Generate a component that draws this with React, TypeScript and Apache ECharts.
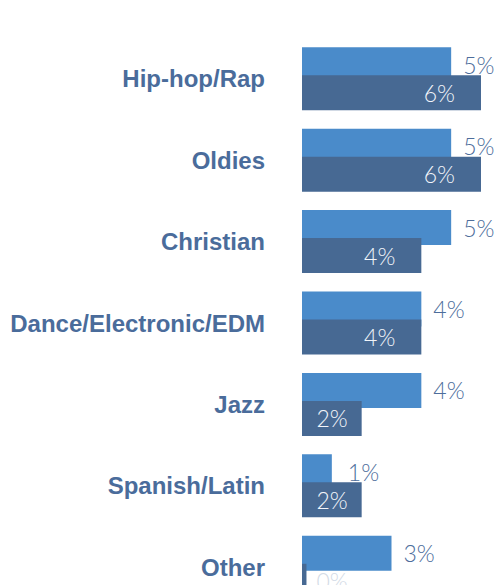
import React, { useEffect, useRef } from "react";
import * as echarts from "echarts";

const categories = ["Hip-hop/Rap", "Oldies", "Christian", "Dance/Electronic/EDM", "Jazz", "Spanish/Latin", "Other"];
const seriesA = [5, 5, 5, 4, 4, 1, 3];
const seriesB = [6, 6, 4, 4, 2, 2, 0.15];
const labelsA = ["5%", "5%", "5%", "4%", "4%", "1%", "3%"];
const labelsB = ["6%", "6%", "4%", "4%", "2%", "2%", "0%"];

export default function App() {
  const ref = useRef<HTMLDivElement>(null);
  useEffect(() => {
    document.body.style.margin = "0";
    const chart = echarts.init(ref.current!, null, { renderer: "svg" });
    const valueFont = "'Helvetica Neue', Lato, 'Open Sans', sans-serif";
    chart.setOption({
      animation: false,
      grid: { left: 302, right: 18, top: 38, bottom: 0 },
      xAxis: { type: "value", min: 0, max: 6, show: false },
      yAxis: {
        type: "category",
        data: categories,
        inverse: true,
        axisLine: { show: false },
        axisTick: { show: false },
        splitLine: { show: false },
        axisLabel: {
          margin: 37,
          color: "#4a6c9b",
          fontSize: 24,
          fontWeight: "bold",
          fontFamily: "'Liberation Sans', Arial, sans-serif",
        },
      },
      series: [
        {
          type: "bar",
          data: seriesA.map((v, i) => ({ value: v, label: { formatter: labelsA[i], distance: i === 5 ? 16 : 12 } })),
          barWidth: 35,
          barGap: "-20%",
          itemStyle: { color: "#4a8bca" },
          label: {
            show: true,
            position: "right",
            color: "#4d6d9b",
            fontSize: 23,
            fontWeight: 300,
            fontFamily: valueFont,
          },
          z: 1,
        },
        {
          type: "bar",
          data: seriesB.map((v, i) => ({
            value: v,
            label:
              i === 6
                ? { formatter: labelsB[i], position: "right", distance: 10, color: "#d3dbe6" }
                : { formatter: labelsB[i], distance: v <= 2 ? 14 : 26 },
          })),
          barWidth: 35,
          barGap: "-20%",
          itemStyle: { color: "#476993" },
          label: {
            show: true,
            position: "insideRight",
            color: "#f2f5fa",
            fontSize: 23,
            fontWeight: 300,
            fontFamily: valueFont,
          },
          z: 2,
        },
      ],
    });
    return () => chart.dispose();
  }, []);
  return (
    <div style={{ width: 499, height: 585, overflow: "hidden" }}>
      <div ref={ref} style={{ width: 499, height: 608 }} />
    </div>
  );
}
